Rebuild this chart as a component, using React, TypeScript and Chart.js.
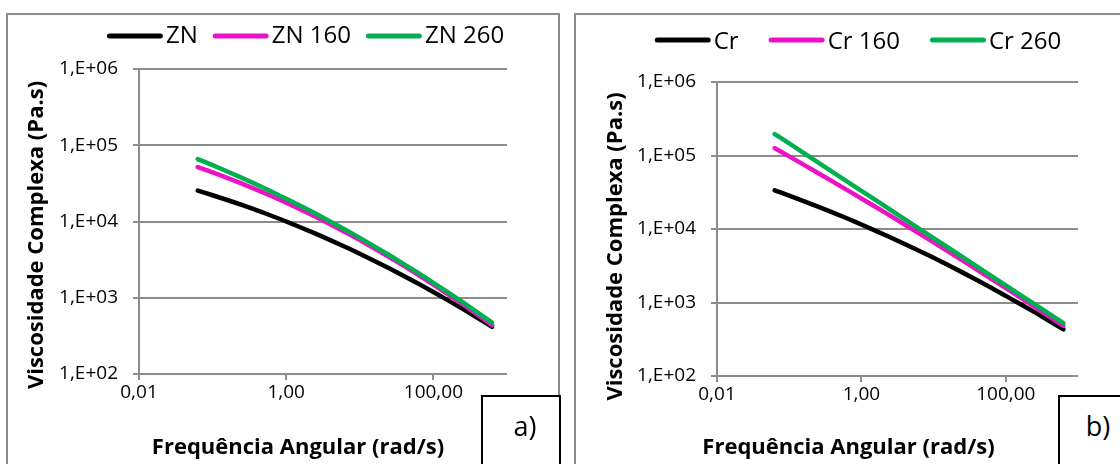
import React, { useEffect, useRef } from "react";
import { Chart, registerables } from "chart.js";

Chart.register(...registerables);

// ---- data ----
const FREQ = [0.0628, 0.1, 0.25, 0.628, 1, 2.5, 6.28, 10, 25, 62.8, 100, 250, 628];

const ZN = [25400, 22100, 16500, 11900, 10000, 6930, 4660, 3780, 2440, 1530, 1190, 715, 417];
const ZN_160 = [51700, 44100, 31400, 21600, 17700, 11560, 7290, 5710, 3430, 1990, 1490, 823, 438];
const ZN_260 = [65800, 54800, 37400, 24800, 19900, 12700, 7860, 6100, 3630, 2100, 1570, 874, 471];

const CR = [33600, 28500, 20200, 14000, 11500, 7730, 5060, 4050, 2570, 1590, 1230, 739, 432];
const CR_160 = [126000, 97200, 57900, 34100, 26000, 15200, 8730, 6580, 3750, 2100, 1570, 872, 479];
const CR_260 = [196000, 146000, 80700, 44600, 33100, 18400, 10100, 7520, 4170, 2310, 1710, 949, 525];

const NAMES_A = ["ZN", "ZN 160", "ZN 260"];
const NAMES_B = ["Cr", "Cr 160", "Cr 260"];

const X_TICKS = [0.01, 1, 100];
const X_TICK_LABELS = ["0,01", "1,00", "100,00"];
const Y_TICKS = [100, 1000, 10000, 100000, 1000000];
const Y_TICK_LABELS = ["1,E+02", "1,E+03", "1,E+04", "1,E+05", "1,E+06"];

const X_TITLE = "Frequência Angular (rad/s)";
const Y_TITLE = "Viscosidade Complexa (Pa.s)";
const PANEL_LABELS = ["a)", "b)"];

// ---- styles ----
const SERIES_COLORS = ["#000000", "#EC12C6", "#00B050"];
const GRID = "#8c8c8c";
const FONT = "'Open Sans', 'Noto Sans', sans-serif";
const TICK_SIZE = 19;
const LEGEND_SIZE = 24;
const TITLE_SIZE = 22;
const SAMPLE_W = 56;
const TEXT_GAP = 3;

type Panel = {
  key: string;
  names: string[];
  series: number[][];
  left: number;
  padTop: number;
  padRight: number;
  yAxisW: number;
  xAxisH: number;
  legendCX: number;
  legendY: number;
  legendBase: number;
  legendGap: number;
  xTitleCX: number;
  xTitleBase: number;
  yTitleBase: number;
  yTitleCY: number;
};

const PANELS: Panel[] = [
  {
    key: "a",
    names: NAMES_A,
    series: [ZN, ZN_160, ZN_260],
    left: 0,
    padTop: 69,
    padRight: 53,
    yAxisW: 139,
    xAxisH: 90,
    legendCX: 305.5,
    legendY: 36,
    legendBase: 43,
    legendGap: 15,
    xTitleCX: 298,
    xTitleBase: 454,
    yTitleBase: 43,
    yTitleCY: 235,
  },
  {
    key: "b",
    names: NAMES_B,
    series: [CR, CR_160, CR_260],
    left: 560,
    padTop: 82,
    padRight: 42,
    yAxisW: 157,
    xAxisH: 88,
    legendCX: 298,
    legendY: 40,
    legendBase: 48.5,
    legendGap: 30,
    xTitleCX: 288.5,
    xTitleBase: 454,
    yTitleBase: 62,
    yTitleCY: 246.5,
  },
];

function decorPlugin(p: Panel) {
  return {
    id: "decor_" + p.key,
    afterDraw(chart: any) {
      const ctx: CanvasRenderingContext2D = chart.ctx;
      ctx.save();
      // legend
      ctx.font = `${LEGEND_SIZE}px ${FONT}`;
      const widths = p.names.map((n) => ctx.measureText(n).width);
      const total =
        widths.reduce((s, w) => s + w, 0) +
        p.names.length * (SAMPLE_W + TEXT_GAP) +
        (p.names.length - 1) * p.legendGap;
      let x = p.legendCX - total / 2;
      ctx.textAlign = "left";
      ctx.textBaseline = "alphabetic";
      ctx.fillStyle = "#000";
      p.names.forEach((n, i) => {
        ctx.strokeStyle = SERIES_COLORS[i];
        ctx.lineWidth = 5;
        ctx.lineCap = "round";
        ctx.beginPath();
        ctx.moveTo(x + 2.5, p.legendY);
        ctx.lineTo(x + SAMPLE_W - 2.5, p.legendY);
        ctx.stroke();
        ctx.fillText(n, x + SAMPLE_W + TEXT_GAP, p.legendBase);
        x += SAMPLE_W + TEXT_GAP + widths[i] + p.legendGap;
      });
      // axis titles
      ctx.font = `bold ${TITLE_SIZE}px ${FONT}`;
      ctx.textAlign = "center";
      ctx.textBaseline = "alphabetic";
      ctx.fillText(X_TITLE, p.xTitleCX, p.xTitleBase);
      ctx.translate(p.yTitleBase, p.yTitleCY);
      ctx.rotate(-Math.PI / 2);
      ctx.fillText(Y_TITLE, 0, 0);
      ctx.restore();
    },
  };
}

function buildConfig(p: Panel): any {
  return {
    type: "line",
    data: {
      datasets: p.series.map((vals, i) => ({
        label: p.names[i],
        data: FREQ.map((f, j) => ({ x: f, y: vals[j] })),
        borderColor: SERIES_COLORS[i],
        backgroundColor: SERIES_COLORS[i],
        borderWidth: 4.5,
        borderCapStyle: "round",
        borderJoinStyle: "round",
        pointRadius: 0,
        tension: 0.2,
        fill: false,
        order: p.series.length - i,
      })),
    },
    options: {
      animation: false,
      responsive: true,
      maintainAspectRatio: false,
      layout: { padding: { left: 0, right: p.padRight, top: p.padTop, bottom: 0 } },
      plugins: { legend: { display: false }, tooltip: { enabled: false }, title: { display: false } },
      scales: {
        x: {
          type: "logarithmic",
          min: 0.01,
          max: 1000,
          afterBuildTicks: (s: any) => {
            s.ticks = X_TICKS.map((v) => ({ value: v }));
          },
          afterFit: (s: any) => {
            s.height = p.xAxisH;
          },
          ticks: {
            autoSkip: false,
            maxRotation: 0,
            padding: 1,
            color: "#000",
            font: { family: FONT, size: TICK_SIZE },
            callback: (_v: any, i: number) => X_TICK_LABELS[i],
          },
          grid: { drawOnChartArea: false, drawTicks: true, tickLength: 6, color: GRID, lineWidth: 2 },
          border: { display: false },
        },
        y: {
          type: "logarithmic",
          min: 100,
          max: 1000000,
          afterBuildTicks: (s: any) => {
            s.ticks = Y_TICKS.map((v) => ({ value: v }));
          },
          afterFit: (s: any) => {
            s.width = p.yAxisW;
          },
          ticks: {
            autoSkip: false,
            padding: 15,
            color: "#000",
            font: { family: FONT, size: TICK_SIZE },
            callback: (_v: any, i: number) => Y_TICK_LABELS[i],
          },
          grid: { drawTicks: true, tickLength: 6, color: GRID, lineWidth: 2 },
          border: { display: true, color: GRID, width: 2 },
        },
      },
    },
    plugins: [decorPlugin(p)],
  };
}

function PanelChart({ panel }: { panel: Panel }) {
  const ref = useRef<HTMLCanvasElement>(null);
  useEffect(() => {
    const chart = new Chart(ref.current as HTMLCanvasElement, buildConfig(panel));
    return () => chart.destroy();
  }, [panel]);
  return (
    <div style={{ position: "absolute", left: panel.left, top: 0, width: 560, height: 464 }}>
      <canvas ref={ref} />
    </div>
  );
}

export default function App() {
  return (
    <div
      style={{
        position: "fixed",
        left: 0,
        top: 0,
        width: 1120,
        height: 464,
        overflow: "hidden",
        background: "#fff",
        fontFamily: FONT,
      }}
    >
      <div style={{ position: "absolute", left: 6, top: 13, width: 554, height: 520, border: "2px solid #8c8c8c", boxSizing: "border-box" }} />
      <div style={{ position: "absolute", left: 574, top: 13, width: 600, height: 520, border: "2px solid #8c8c8c", boxSizing: "border-box" }} />
      {PANELS.map((p) => (
        <PanelChart key={p.key} panel={p} />
      ))}
      <div style={{ position: "absolute", left: 481, top: 395, width: 80, height: 100, border: "2px solid #000", boxSizing: "border-box", background: "#fff" }} />
      <div style={{ position: "absolute", left: 1058, top: 395, width: 100, height: 100, border: "2px solid #000", boxSizing: "border-box", background: "#fff" }} />
      <div style={{ position: "absolute", left: 485, top: 412, width: 80, textAlign: "center", fontSize: 27, lineHeight: "27px", color: "#000" }}>
        {PANEL_LABELS[0]}
      </div>
      <div style={{ position: "absolute", left: 1058, top: 412, width: 80, textAlign: "center", fontSize: 27, lineHeight: "27px", color: "#000" }}>
        {PANEL_LABELS[1]}
      </div>
    </div>
  );
}
